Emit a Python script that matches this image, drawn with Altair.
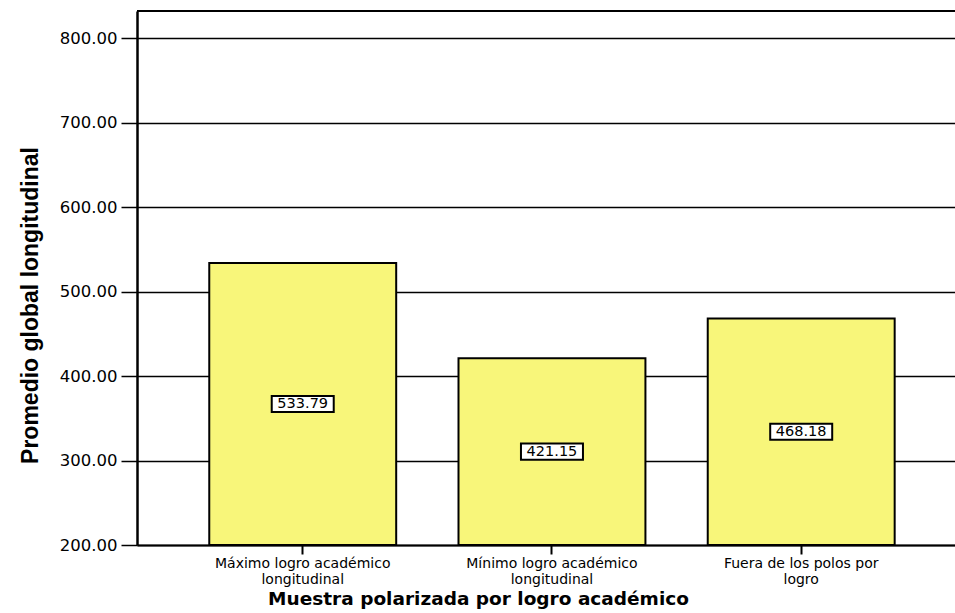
import altair as alt
import pandas as pd

categories = [
    "Máximo logro académico\nlongitudinal",
    "Mínimo logro académico\nlongitudinal",
    "Fuera de los polos por\nlogro",
]
values = [533.79, 421.15, 468.18]
value_labels = ["533.79", "421.15", "468.18"]
y_ticks = [200, 300, 400, 500, 600, 700, 800]

df = pd.DataFrame({"cat": categories, "value": values, "label": value_labels})

W, H = 818, 534
BAR = "#F8F67A"

x_enc = alt.X(
    "cat:N",
    sort=categories,
    title="Muestra polarizada por logro académico",
    scale=alt.Scale(paddingInner=0.25, paddingOuter=0.266, align=0.545),
    axis=alt.Axis(
        labelAngle=0,
        labelExpr="split(datum.label, '\\n')",
        labelFont="DejaVu Sans",
        labelFontSize=14,
        labelLineHeight=16,
        labelColor="black",
        labelPadding=2,
        labelLimit=400,
        tickSize=9,
        tickColor="black",
        tickWidth=2,
        domainColor="black",
        domainWidth=2,
        grid=False,
        titleFont="DejaVu Sans",
        titleFontSize=18.5,
        titleFontWeight="bold",
        titleColor="black",
        titlePadding=3,
        titleX=341,
        titleAlign="center",
    ),
)

y_scale = alt.Scale(domain=[200, 832], nice=False, zero=False)
y_axis = alt.Axis(
    values=y_ticks,
    format=".2f",
    labelFont="DejaVu Sans",
    labelFontSize=16.5,
    labelColor="black",
    labelPadding=4,
    tickSize=16,
    tickColor="black",
    tickWidth=1.5,
    domainColor="black",
    domainWidth=2.5,
    grid=True,
    gridColor="black",
    gridWidth=1.5,
    title="Promedio global longitudinal",
    titleFont="Liberation Sans",
    titleFontSize=23,
    titleFontWeight="bold",
    titleColor="black",
    titlePadding=17,
    titleY=294,
)

base = alt.Chart(df)

bars = base.mark_bar(fill=BAR, stroke="black", strokeWidth=2).encode(
    x=x_enc,
    y=alt.Y("value:Q", scale=y_scale, axis=y_axis),
    y2=alt.datum(200),
)

mid = base.transform_calculate(mid="(200 + datum.value) / 2")

boxes = mid.mark_point(
    shape="M-1,-0.26L1,-0.26L1,0.26L-1,0.26Z",
    size=62 * 62,
    filled=True,
    fill="white",
    stroke="black",
    strokeWidth=2,
    opacity=1,
    fillOpacity=1,
    strokeOpacity=1,
).encode(x=alt.X("cat:N", sort=categories), y=alt.Y("mid:Q"))

texts = mid.mark_text(
    font="DejaVu Sans", fontSize=14.5, color="black", baseline="middle", align="center"
).encode(x=alt.X("cat:N", sort=categories), y=alt.Y("mid:Q"), text="label:N")

top = alt.Chart(pd.DataFrame({"a": [0]})).mark_rule(color="black", strokeWidth=2).encode(
    x=alt.value(0), x2=alt.value(W), y=alt.value(0)
)

chart = (
    alt.layer(bars, boxes, texts, top)
    .properties(
        width=W,
        height=H,
        padding={"left": 137, "top": 11, "right": 0, "bottom": 68},
        autosize=alt.AutoSizeParams(type="none"),
        background="white",
    )
    .configure_view(stroke=None)
)

chart.save("out.html", embed_options={"renderer": "svg", "actions": False})
